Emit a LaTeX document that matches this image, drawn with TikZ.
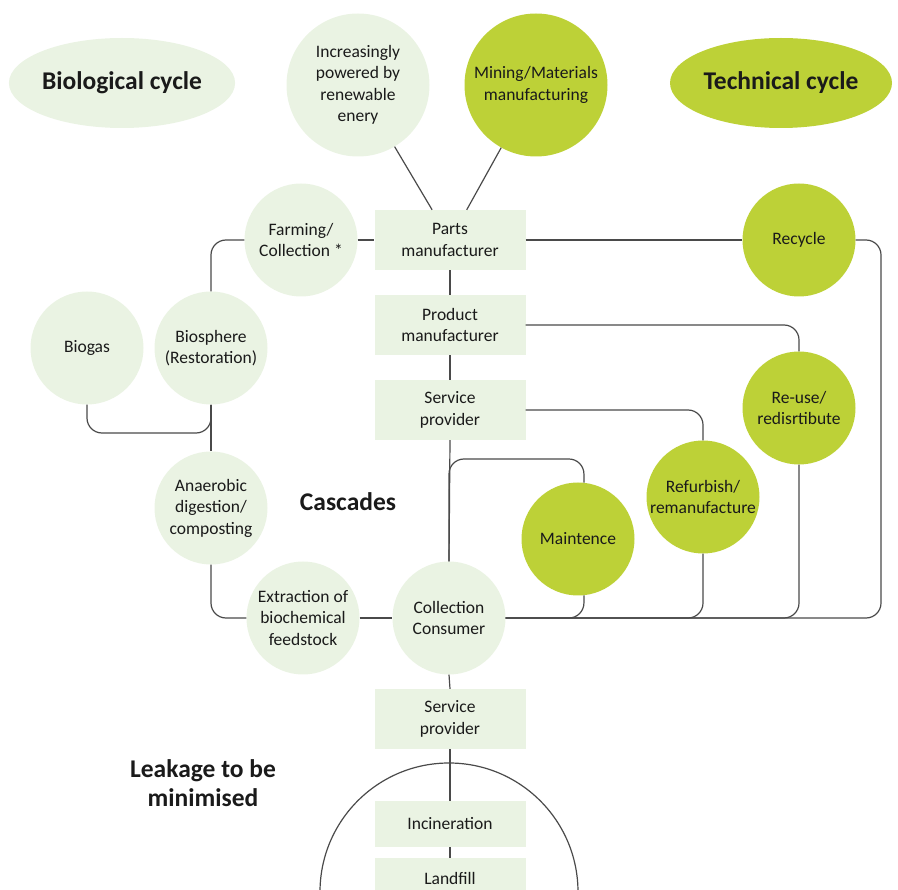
\documentclass[tikz,border=0pt]{standalone}
\usepackage{fontspec}
\setmainfont{Carlito}
\usetikzlibrary{shapes.geometric,calc}
\definecolor{lg}{HTML}{EAF3E3}
\definecolor{dg}{HTML}{BDD137}
\definecolor{ln}{HTML}{4A4A4A}
\definecolor{txt}{HTML}{1A1A1A}
\tikzset{
  every node/.style={text=txt, font=\fontsize{17.5}{21.5}\selectfont, align=center, inner sep=0pt},
  lcirc/.style={circle, fill=lg, minimum size=113pt},
  dcirc/.style={circle, fill=dg, minimum size=113pt},
  bigl/.style={circle, fill=lg, minimum size=143pt},
  bigd/.style={circle, fill=dg, minimum size=143pt},
  sbox/.style={rectangle, fill=lg, minimum width=151pt, minimum height=60pt},
  tbox/.style={rectangle, fill=lg, minimum width=151pt, minimum height=46pt},
  title/.style={font=\fontsize{25.5}{29}\selectfont\bfseries},
  conn/.style={draw=ln, line width=1.2pt, rounded corners=15pt},
}
\begin{document}
\begin{tikzpicture}[x=1pt,y=-1pt]
\useasboundingbox (0,0) rectangle (898,890);
\clip (0,0) rectangle (898,890);
% titles
\node[ellipse, fill=lg, minimum width=222pt, minimum height=90pt, title] (bio) at (122,83) {Biological cycle};
\node[ellipse, fill=dg, minimum width=222pt, minimum height=90pt, title] (tech) at (781,83) {Technical cycle};
% top circles
\node[bigl] (incr) at (358,85) {Increasingly\\powered by\\renewable\\enery};
\node[bigd] (mine) at (536,85) {Mining/Materials\\manufacturing};
% central column
\node[sbox] (parts) at (450,240) {Parts\\manufacturer};
\node[sbox] (prod) at (450,325) {Product\\manufacturer};
\node[sbox] (serv) at (450,410) {Service\\provider};
\node[lcirc] (coll) at (449,618) {Collection\\Consumer};
\node[sbox] (serv2) at (450,719) {Service\\provider};
\node[tbox] (inc) at (450,824) {Incineration};
\node[tbox, minimum height=40pt] (land) at (450,878) {Landfill};
% biological side
\node[lcirc] (farm) at (301,240) {Farming/\\Collection *};
\node[lcirc] (bios) at (211,348) {Biosphere\\(Restoration)};
\node[lcirc] (biogas) at (87,348) {Biogas};
\node[lcirc] (anae) at (211,508) {Anaerobic\\digestion/\\composting};
\node[lcirc] (extr) at (303,618) {Extraction of\\biochemical\\feedstock};
% technical side
\node[dcirc] (recy) at (799,240) {Recycle};
\node[dcirc] (reuse) at (799,408) {Re-use/\\redisrtibute};
\node[dcirc] (refu) at (703,497) {Refurbish/\\remanufacture};
\node[dcirc] (main) at (578,539) {Maintence};
% free labels
\node[title] (casc) at (348,502) {Cascades};
\node[title] (leak) at (203,783) {Leakage to be\\minimised};
% coordinates
\coordinate (j1) at (211,433);
\coordinate (cR) at (881,618);
\coordinate (mL) at (449,459);
% connectors
\draw[conn] (incr) -- (parts);
\draw[conn] (mine) -- (parts);
\draw[conn] (farm.east) -- (parts.west);
\draw[conn] (farm.west) -| (bios.north);
\draw[conn] (biogas.south) |- (j1) -- (bios.south);
\draw[conn] (bios.south) -- (anae.north);
\draw[conn] (anae.south) |- (extr.west);
\draw[conn] (extr.east) -- (coll.west);
\draw[conn] (parts.south) -- (prod.north);
\draw[conn] (prod.south) -- (serv.north);
\draw[conn] (serv.south) -- (coll.north);
\draw[conn] (parts.east) -- (recy.west);
\draw[conn] (recy.east) -| (cR) -- (coll.east);
\draw[conn] (prod.east) -| (reuse.north);
\draw[conn] (reuse.south) |- (coll.east);
\draw[conn] (serv.east) -| (refu.north);
\draw[conn] (refu.south) |- (coll.east);
\draw[conn] (main.84) |- (mL) -- (coll.north);
\draw[conn] (main.-84) |- (coll.east);
\draw[conn] (coll.south) -- (serv2.north);
\draw[conn] (serv2.south) -- (inc.north);
\draw[conn] (inc.south) -- (land.north);
\draw[draw=ln, line width=1.2pt] (449,892) circle[radius=129];
\end{tikzpicture}
\end{document}
